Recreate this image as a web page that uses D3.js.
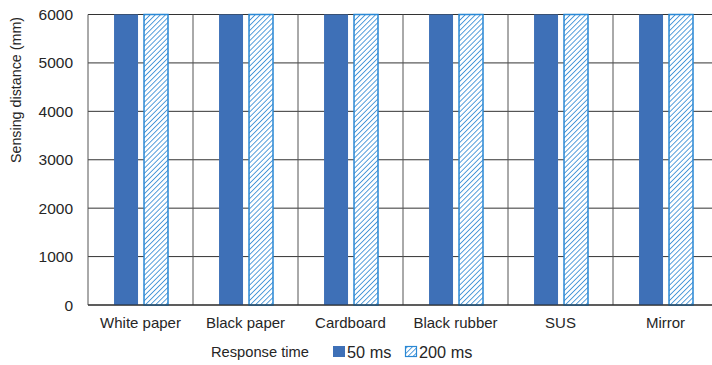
<!DOCTYPE html>
<html><head><meta charset="utf-8">
<script src="https://cdn.jsdelivr.net/npm/d3@7"></script>
<style>body{margin:0;background:#fff}svg{display:block}text{font-family:"Liberation Sans",Arial,sans-serif;fill:#262626}</style>
</head><body><svg id="c" width="712" height="365"></svg>
<script>
const categories = ["White paper","Black paper","Cardboard","Black rubber","SUS","Mirror"];
const seriesNames = ["50 ms","200 ms"];
const values50 = [6000,6000,6000,6000,6000,6000];
const values200 = [6000,6000,6000,6000,6000,6000];
const yTicks = [0,1000,2000,3000,4000,5000,6000];
const yTitle = "Sensing distance (mm)";
const legendTitle = "Response time";

const svg = d3.select("#c");
const L = 88, R = 718, T = 14.5, B = 305;
const x0 = d3.scaleBand().domain(categories).range([L, R]);
const bw = x0.bandwidth();
const x1 = d3.scaleBand().domain(seriesNames).range([bw*0.248, bw*0.762]).paddingInner(0.2);
const y = d3.scaleLinear().domain([0,6000]).range([B, T]);

const defs = svg.append("defs");
const pat = defs.append("pattern").attr("id","hatch").attr("patternUnits","userSpaceOnUse")
  .attr("width",3.6).attr("height",3.6).attr("patternTransform","rotate(45)");
pat.append("rect").attr("width",3.6).attr("height",3.6).attr("fill","#fff");
pat.append("line").attr("x1",0).attr("y1",0).attr("x2",0).attr("y2",3.6).attr("stroke","#1f80d0").attr("stroke-width",1.5);

// gridlines
svg.append("g").selectAll("line").data(yTicks).join("line")
  .attr("x1",L).attr("x2",R).attr("y1",d=>y(d)).attr("y2",d=>y(d))
  .attr("stroke","#333").attr("stroke-width",1);
// vertical separators
svg.append("g").selectAll("line").data(categories).join("line")
  .attr("x1",d=>x0(d)).attr("x2",d=>x0(d)).attr("y1",T).attr("y2",B)
  .attr("stroke","#555").attr("stroke-width",1);

const data = categories.map((c,i)=>({c, vals:[{s:seriesNames[0],v:values50[i]},{s:seriesNames[1],v:values200[i]}]}));
const g = svg.append("g").selectAll("g").data(data).join("g").attr("transform",d=>`translate(${x0(d.c)},0)`);
g.selectAll("rect").data(d=>d.vals).join("rect")
  .attr("x",d=>x1(d.s)).attr("width",x1.bandwidth())
  .attr("y",d=>y(d.v)).attr("height",d=>y(0)-y(d.v))
  .attr("fill",d=>d.s===seriesNames[0]?"#3e70b7":"url(#hatch)")
  .attr("stroke",d=>d.s===seriesNames[0]?"none":"#2a88d4")
  .attr("stroke-width",1.5);

// bottom axis line
svg.append("line").attr("x1",L).attr("x2",R).attr("y1",B).attr("y2",B).attr("stroke","#222").attr("stroke-width",1.2);

// y tick labels
svg.append("g").selectAll("text").data(yTicks).join("text")
  .attr("x",73).attr("y",d=>y(d)).attr("dy","0.36em").attr("text-anchor","end")
  .style("font-size","15.5px").text(d=>d);
// x labels
svg.append("g").selectAll("text").data(categories).join("text")
  .attr("x",d=>x0(d)+bw/2).attr("y",328).attr("text-anchor","middle")
  .style("font-size","15px").text(d=>d);
// y title
svg.append("text").attr("transform","translate(21,90) rotate(-90)").attr("text-anchor","middle")
  .style("font-size","14.3px").text(yTitle);

// legend
const lg = svg.append("g");
lg.append("text").attr("x",211).attr("y",357).style("font-size","14.7px").text(legendTitle);
lg.append("rect").attr("x",333).attr("y",346).attr("width",12).attr("height",11).attr("fill","#3e70b7");
lg.append("text").attr("x",347).attr("y",357.5).style("font-size","16.3px").text(seriesNames[0]);
lg.append("rect").attr("x",405.5).attr("y",346.5).attr("width",11).attr("height",10).attr("fill","url(#hatch)").attr("stroke","#2a88d4").attr("stroke-width",1.2);
lg.append("text").attr("x",419).attr("y",357.5).style("font-size","16.3px").text(seriesNames[1]);
</script></body></html>
